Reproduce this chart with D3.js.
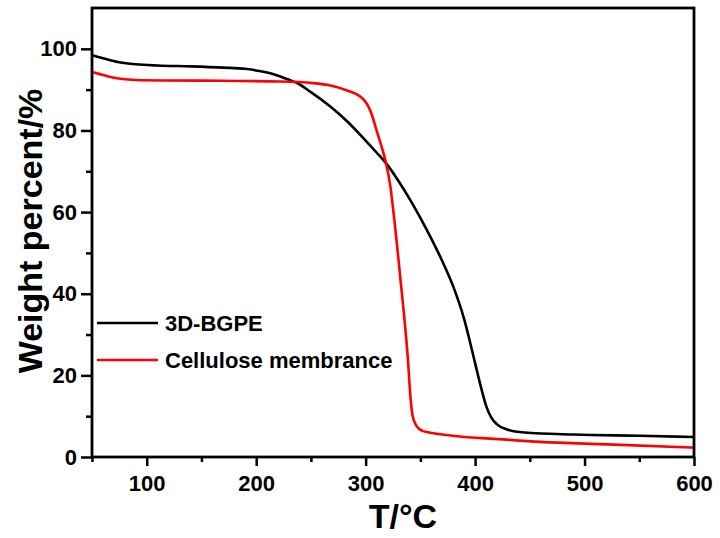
<html>
<head>
<script src="https://d3js.org/d3.v7.min.js"></script>
<style>
  body { margin: 0; background: #fff; }
  text { font-family: "Liberation Sans", Arial, sans-serif; font-weight: bold; }
</style>
</head>
<body>
<script>
  // values
  let seriesNames = ["3D-BGPE", "Cellulose membrance"];
  let seriesColors = ["#000000", "#ff0000"];

  let tempBGPE =   [50, 60, 75, 90, 110, 140, 170, 190, 200, 210, 220, 230, 236, 250, 268, 284, 300, 310, 320, 330, 340, 350, 360, 370, 380, 390, 400, 405, 410, 415, 420, 430, 445, 490, 550, 600];
  let weightBGPE = [98.4, 97.7, 96.7, 96.2, 95.9, 95.7, 95.4, 95.1, 94.7, 94.2, 93.4, 92.4, 91.8, 89.4, 85.8, 82.0, 77.5, 74.6, 71.5, 67.6, 63.3, 58.6, 53.5, 48.0, 41.8, 33.8, 23.0, 17.5, 12.6, 9.6, 8.0, 6.7, 6.0, 5.5, 5.2, 4.9];

  let tempCell =   [50, 57, 64, 78, 95, 150, 222, 252, 268, 283, 295, 299, 303, 306, 309, 313.6, 318, 322.7, 325, 332, 338.6, 341, 343, 347, 352, 356, 370, 390, 414, 460, 521, 600];
  let weightCell = [94.3, 93.8, 93.3, 92.6, 92.3, 92.2, 92.0, 91.6, 91.0, 89.8, 88.3, 87.3, 85.6, 83.6, 80.9, 76.9, 72.7, 66.1, 61.0, 43.0, 24.0, 14.5, 10.0, 7.4, 6.4, 6.1, 5.5, 4.9, 4.5, 3.7, 3.1, 2.3];

  let xTicks = [100, 200, 300, 400, 500, 600];
  let xMinor = [50, 150, 250, 350, 450, 550];
  let yTicks = [0, 20, 40, 60, 80, 100];
  let yMinor = [10, 30, 50, 70, 90];

  let width = 720, height = 538;
  let margin = {top: 8, right: 26, bottom: 81, left: 92};

  let svg = d3.select("body").append("svg")
      .attr("width", width)
      .attr("height", height);

  svg.append("rect")
      .attr("width", width)
      .attr("height", height)
      .attr("fill", "#fff");

  let x = d3.scaleLinear()
      .domain([50, 600])
      .range([margin.left, width - margin.right]);

  let y = d3.scaleLinear()
      .domain([0, 110])
      .range([height - margin.bottom, margin.top]);

  // minor ticks first, then the labelled ones
  svg.append("g")
      .attr("transform", `translate(0,${height - margin.bottom})`)
      .call(d3.axisBottom(x).tickValues(xMinor).tickSize(5).tickFormat(""))
      .call(g => g.select(".domain").remove())
      .call(g => g.selectAll("line").attr("stroke-width", 2.5));

  svg.append("g")
      .attr("transform", `translate(0,${height - margin.bottom})`)
      .call(d3.axisBottom(x).tickValues(xTicks).tickSize(9).tickPadding(9).tickFormat(d3.format("d")))
      .call(g => g.select(".domain").remove())
      .call(g => g.selectAll("line").attr("stroke-width", 2.5))
      .call(g => g.selectAll("text").attr("font-size", 22).attr("fill", "#000")
          .attr("font-family", "Liberation Sans, Arial, sans-serif"));

  svg.append("g")
      .attr("transform", `translate(${margin.left},0)`)
      .call(d3.axisLeft(y).tickValues(yMinor).tickSize(6).tickFormat(""))
      .call(g => g.select(".domain").remove())
      .call(g => g.selectAll("line").attr("stroke-width", 2.5));

  svg.append("g")
      .attr("transform", `translate(${margin.left},0)`)
      .call(d3.axisLeft(y).tickValues(yTicks).tickSize(11).tickPadding(4).tickFormat(d3.format("d")))
      .call(g => g.select(".domain").remove())
      .call(g => g.selectAll("line").attr("stroke-width", 2.5))
      .call(g => g.selectAll("text").attr("font-size", 22).attr("fill", "#000")
          .attr("font-family", "Liberation Sans, Arial, sans-serif"));

  // curves
  let line = d3.line()
      .x(d => x(d[0]))
      .y(d => y(d[1]))
      .curve(d3.curveMonotoneX);

  let seriesData = [
    d3.zip(tempBGPE, weightBGPE),
    d3.zip(tempCell, weightCell)
  ];

  seriesData.forEach((pts, i) =>
    svg.append("path")
      .datum(pts)
      .attr("d", line)
      .attr("fill", "none")
      .attr("stroke", seriesColors[i])
      .attr("stroke-width", 2.6)
      .attr("stroke-linejoin", "round")
  );

  // frame
  svg.append("rect")
      .attr("x", margin.left)
      .attr("y", margin.top)
      .attr("width", width - margin.left - margin.right)
      .attr("height", height - margin.top - margin.bottom)
      .attr("fill", "none")
      .attr("stroke", "#000")
      .attr("stroke-width", 2.8);

  // legend
  let legendY = [323, 360];
  seriesNames.forEach((name, i) => {
    svg.append("line")
      .attr("x1", 97)
      .attr("x2", 158)
      .attr("y1", legendY[i])
      .attr("y2", legendY[i])
      .attr("stroke", seriesColors[i])
      .attr("stroke-width", 2.6);

    svg.append("text")
      .attr("x", 165)
      .attr("y", legendY[i] + 8)
      .attr("font-size", 22)
      .attr("fill", "#000")
      .text(name);
  });

  // axis titles
  svg.append("text")
      .attr("x", 403)
      .attr("y", 528)
      .attr("text-anchor", "middle")
      .attr("font-size", 34)
      .text("T/°C");

  svg.append("text")
      .attr("transform", "translate(42,231) rotate(-90)")
      .attr("text-anchor", "middle")
      .attr("font-size", 34)
      .text("Weight percent/%");
</script>
</body>
</html>
